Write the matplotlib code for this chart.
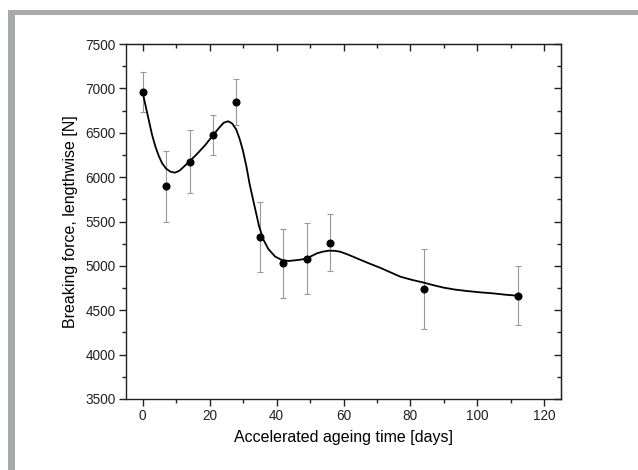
import matplotlib
matplotlib.use("Agg")
import matplotlib.pyplot as plt
from matplotlib.patches import Rectangle
from matplotlib.ticker import MultipleLocator

# measured points with error bars
days = [0, 7, 14, 21, 28, 35, 42, 49, 56, 84, 112]
force = [6960, 5900, 6175, 6470, 6850, 5325, 5030, 5080, 5260, 4740, 4665]
force_err = [225, 400, 355, 225, 260, 390, 387, 402, 320, 455, 330]

# smoothed fit curve
fit_days = [0, 0.8, 1.8, 2.8, 3.8, 4.8, 5.8, 7.0, 8.3, 9.6, 11.0, 12.5, 13.9,
            16.2, 18.7, 20.9, 22.7, 24.2, 25.5, 26.7, 27.9, 28.9, 29.9, 31.0,
            31.9, 33.0, 33.9, 34.8, 36.1, 37.6, 39.6, 41.6, 43.6, 45.6, 47.5,
            49, 50.5, 52.1, 53.8, 55.5, 57.2, 59, 61.5, 64, 67.5, 71, 74, 77,
            80.5, 84, 86.9, 89.9, 93.3, 96.8, 100.8, 104.8, 108.4, 112]
fit_force = [6951, 6813, 6644, 6475, 6343, 6238, 6156, 6095, 6061, 6050, 6073,
             6125, 6174, 6260, 6362, 6467, 6550, 6613, 6629, 6606, 6539, 6437,
             6306, 6118, 5930, 5742, 5592, 5442, 5292, 5187, 5104, 5066, 5055,
             5063, 5072, 5085, 5112, 5142, 5160, 5171, 5170, 5160, 5125, 5085,
             5030, 4978, 4928, 4878, 4842, 4811, 4782, 4755, 4733, 4717, 4702,
             4690, 4675, 4664]

plt.rcParams['font.family'] = ['Liberation Sans', 'DejaVu Sans']

fig = plt.figure(figsize=(6.38, 4.70), dpi=100)
fig.patch.set_facecolor('white')

# grey frame round the figure (left and top edges)
fig.add_artist(Rectangle((8/638, 0), 7/638, 1 - 10/470, transform=fig.transFigure,
                         color='#a8a9ad', lw=0))
fig.add_artist(Rectangle((8/638, 1 - 15/470), 1, 5/470, transform=fig.transFigure,
                         color='#a8a9ad', lw=0))

ax = fig.add_axes([126/638, 1 - 399/470, 435/638, 355/470])

ax.errorbar(days, force, yerr=force_err, fmt='none', ecolor='#999999',
            elinewidth=0.8, capsize=2.5, capthick=0.8, zorder=2)
ax.plot(fit_days, fit_force, color='black', lw=1.3, zorder=3,
        solid_joinstyle='round')
ax.plot(days, force, 'o', color='black', ms=4.8, zorder=4)

ax.set_xlim(-5, 125)
ax.set_ylim(3500, 7500)
ax.xaxis.set_major_locator(MultipleLocator(20))
ax.xaxis.set_minor_locator(MultipleLocator(10))
ax.yaxis.set_major_locator(MultipleLocator(500))
ax.yaxis.set_minor_locator(MultipleLocator(250))

for s in ax.spines.values():
    s.set_linewidth(1.0)
    s.set_color('#222222')

ax.tick_params(which='both', direction='out', colors='#222222', labelsize=9.8,
               width=1.0, pad=2.5)
ax.tick_params(which='major', length=5)
ax.tick_params(which='minor', length=3)

# inward ticks on the top and right spines, no labels
sec_x = ax.secondary_xaxis('top')
sec_x.xaxis.set_major_locator(MultipleLocator(20))
sec_x.xaxis.set_minor_locator(MultipleLocator(10))
sec_x.tick_params(which='both', direction='in', labeltop=False, width=1.0, colors='#222222')
sec_x.tick_params(which='major', length=5)
sec_x.tick_params(which='minor', length=3)
sec_y = ax.secondary_yaxis('right')
sec_y.yaxis.set_major_locator(MultipleLocator(500))
sec_y.yaxis.set_minor_locator(MultipleLocator(250))
sec_y.tick_params(which='both', direction='in', labelright=False, width=1.0, colors='#222222')
sec_y.tick_params(which='major', length=5)
sec_y.tick_params(which='minor', length=3)

ax.set_xlabel('Accelerated ageing time [days]', fontsize=11.5, labelpad=5)
ax.set_ylabel('Breaking force, lengthwise [N]', fontsize=11.5, labelpad=5)

fig.savefig('out.png', dpi=100, facecolor='white')
